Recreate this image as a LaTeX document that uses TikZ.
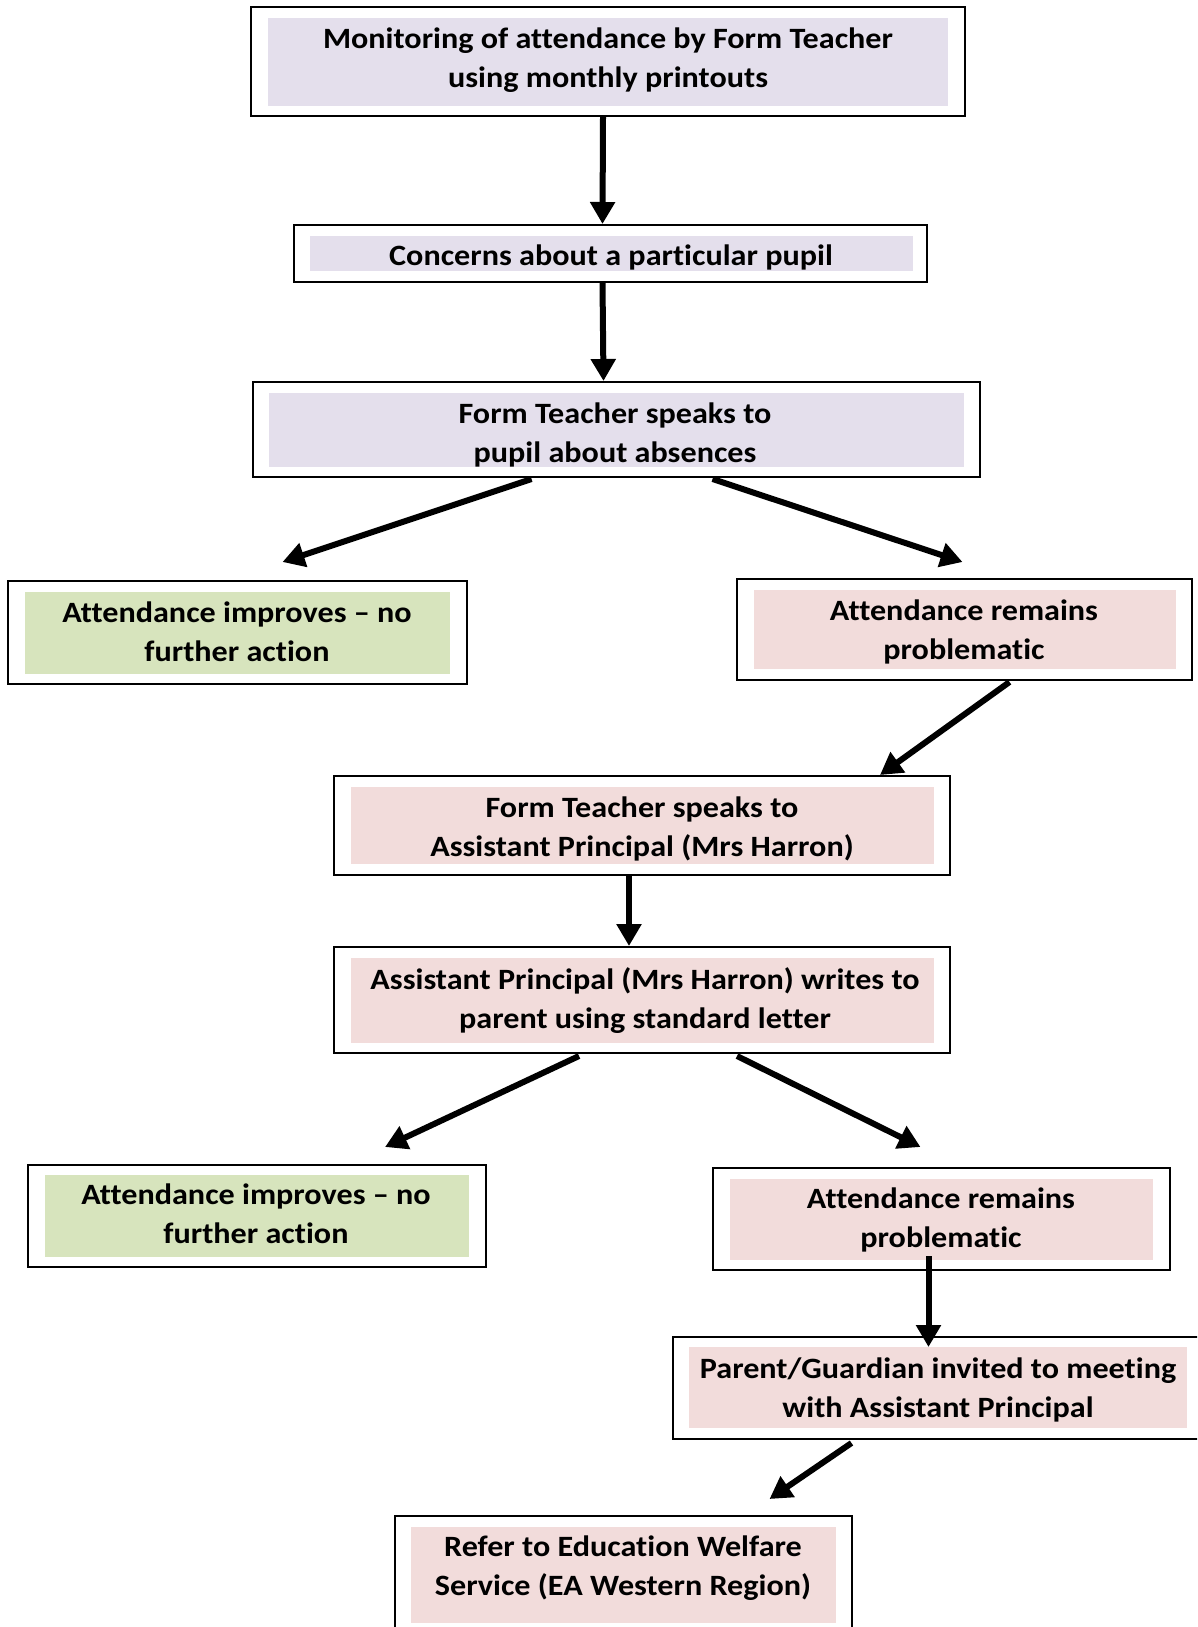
\documentclass[tikz,border=0pt]{standalone}
\usepackage{fontspec}
\setmainfont[FakeStretch=1.09, Ligatures={TeX,NoCommon}]{Carlito}
\usetikzlibrary{arrows.meta,calc,fit}

\definecolor{lav}{HTML}{E4DFEC}
\definecolor{lgreen}{HTML}{D7E4BD}
\definecolor{lpink}{HTML}{F2DCDB}

\tikzset{
  frame/.style={draw=black, line width=2pt, fill=white, inner sep=0pt},
  label/.style={align=center, inner sep=0pt, yshift=-1.5pt,
    font=\fontsize{29.5pt}{38.6pt}\selectfont\bfseries},
  flow/.style={line width=6pt, -{Triangle[length=22pt,width=24pt]}},
}

% box with an outer frame and an inset coloured panel:
% name, outer corners, inner corners, panel colour
\newcommand{\flowbox}[6]{%
  \path (#2) coordinate (#1-a) (#3) coordinate (#1-b);
  \node[frame, fit=(#1-a)(#1-b)] (#1) {};
  \fill[#6] (#4) rectangle (#5);
}

\begin{document}
\begin{tikzpicture}[x=1pt, y=-1pt]
  \useasboundingbox (0,0) rectangle (1197,1627);
  \clip (0,0) rectangle (1197,1627);

  % boxes
  \flowbox{b1}{251,7}{965,116}{268,18}{948,106}{lav}
  \flowbox{b2}{294,225}{927,282}{310,236}{913,271}{lav}
  \flowbox{b3}{253,382}{980,477}{269,393}{964,467}{lav}
  \flowbox{b4}{8,581}{467,684}{25,592}{450,674}{lgreen}
  \flowbox{b5}{737,579}{1192,680}{754,590}{1176,669}{lpink}
  \flowbox{b6}{334,776}{950,875}{351,787}{934,864}{lpink}
  \flowbox{b7}{334,947}{950,1053}{351,958}{934,1043}{lpink}
  \flowbox{b8}{28,1165}{486,1267}{45,1175}{469,1257}{lgreen}
  \flowbox{b9}{713,1168}{1170,1270}{730,1179}{1153,1260}{lpink}
  \flowbox{b10}{673,1337}{1210,1439}{689,1347}{1187,1428}{lpink}
  \flowbox{b11}{395,1516}{852,1645}{411,1527}{836,1623}{lpink}

  % texts
  \node[label] (t1) at (608,59) {\strut Monitoring of attendance by Form Teacher\\using monthly printouts\strut};
  \node[label] (t2) at (611,256) {\strut Concerns about a particular pupil\strut};
  \node[label] (t3) at (615,434) {\strut Form Teacher speaks to\\pupil about absences\strut};
  \node[label] (t4) at (237,633) {\strut Attendance improves – no\\further action\strut};
  \node[label] (t5) at (964,631) {\strut Attendance remains\\problematic\strut};
  \node[label] (t6) at (642,828) {\strut Form Teacher speaks to\\Assistant Principal (Mrs Harron)\strut};
  \node[label] (t7) at (645,1000) {\strut Assistant Principal (Mrs Harron) writes to\\parent using standard letter\strut};
  \node[label] (t8) at (256,1215) {\strut Attendance improves – no\\further action\strut};
  \node[label] (t9) at (941,1219) {\strut Attendance remains\\problematic\strut};
  \node[label] (t10) at (938,1389) {\strut Parent/Guardian invited to meeting\\with Assistant Principal\strut};
  \node[label] (t11) at (623,1567) {\strut Refer to Education Welfare\\Service (EA Western Region)\strut};

  % connectors
  \draw[flow] ($(b1.south)+(-5,0)$) -- ($(b2.north)+(-8,0)$);
  \draw[flow] ($(b2.south)+(-8,0)$) -- ($(b3.north)+(-13,0)$);
  \draw[flow] ($(b3.south)+(-85,1)$) -- ($(b4.north)+(45,-18)$);
  \draw[flow] ($(b3.south)+(96,1)$) -- ($(b5.north)+(-2,-16)$);
  \draw[flow] ($(b5.south)+(45,1)$) -- ($(b6.north)+(238,0)$);
  \draw[flow] ($(b6.south)+(-13,0)$) -- ($(b7.north)+(-13,0)$);
  \draw[flow] ($(b7.south)+(-63,2)$) -- ($(b8.north)+(128,-17)$);
  \draw[flow] ($(b7.south)+(95,2)$) -- ($(b9.north)+(-21,-20)$);
  \draw[flow] ($(b9.south)+(-13,-15)$) -- ($(b10.north)+(-13,11)$);
  \draw[flow] ($(b10.south)+(-90,3)$) -- ($(b11.north)+(146,-16)$);
\end{tikzpicture}
\end{document}
